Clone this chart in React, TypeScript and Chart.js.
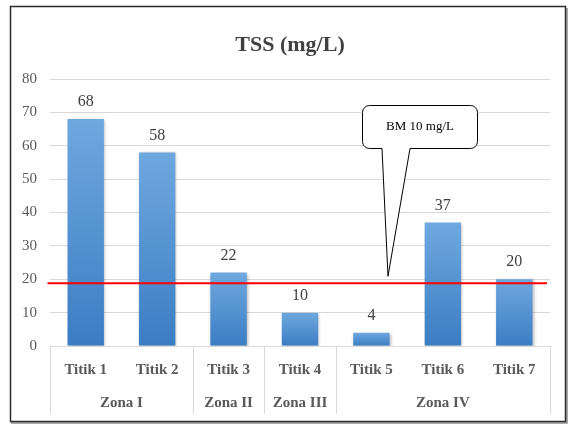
import { useEffect, useRef } from 'react';
import { Chart, registerables } from 'chart.js';

Chart.register(...registerables);

// Chart content
const titleText = 'TSS (mg/L)';
const pointLabels = ['Titik 1', 'Titik 2', 'Titik 3', 'Titik 4', 'Titik 5', 'Titik 6', 'Titik 7'];
const tssValues = [68, 58, 22, 10, 4, 37, 20];
const zoneLabels = ['Zona I', 'Zona II', 'Zona III', 'Zona IV'];
const zoneSizes = [2, 1, 1, 3];
const yMin = 0;
const yMax = 80;
const yStep = 10;
const bmLabel = 'BM 10 mg/L';
const bmLineValue = 18.8;

const SERIF = "'Liberation Serif', 'Times New Roman', serif";

const decorPlugin = {
  id: 'decor',
  beforeDatasetsDraw(chart: any) {
    const ctx = chart.ctx;
    ctx.save();
    ctx.shadowColor = 'rgba(0,0,0,0.28)';
    ctx.shadowBlur = 3;
    ctx.shadowOffsetX = 1;
    ctx.shadowOffsetY = 1;
  },
  afterDatasetsDraw(chart: any) {
    const ctx = chart.ctx;
    ctx.restore();
    const { chartArea, scales } = chart;
    const xs = scales.x;
    const ys = scales.y;

    // value labels above the bars
    const meta = chart.getDatasetMeta(0);
    ctx.save();
    ctx.font = `16px ${SERIF}`;
    ctx.fillStyle = '#404040';
    ctx.textAlign = 'center';
    ctx.textBaseline = 'middle';
    meta.data.forEach((bar: any, i: number) => {
      ctx.fillText(String(tssValues[i]), bar.x, bar.y - 17);
    });
    ctx.restore();

    // zone grouping row under the point labels
    const half = (xs.getPixelForValue(1) - xs.getPixelForValue(0)) / 2;
    ctx.save();
    ctx.strokeStyle = '#d9d9d9';
    ctx.lineWidth = 1;
    let start = 0;
    const bounds: number[] = [xs.getPixelForValue(0) - half];
    zoneSizes.forEach((n) => {
      start += n;
      bounds.push(xs.getPixelForValue(start - 1) + half);
    });
    bounds.forEach((bx) => {
      const px = Math.round(bx) + 0.5;
      ctx.beginPath();
      ctx.moveTo(px, chartArea.bottom);
      ctx.lineTo(px, chartArea.bottom + 68);
      ctx.stroke();
    });
    ctx.font = `bold 15px ${SERIF}`;
    ctx.fillStyle = '#595959';
    ctx.textAlign = 'center';
    ctx.textBaseline = 'middle';
    zoneLabels.forEach((z, i) => {
      ctx.fillText(z, (bounds[i] + bounds[i + 1]) / 2, chartArea.bottom + 57);
    });
    ctx.restore();

    // threshold line
    const ly = ys.getPixelForValue(bmLineValue);
    ctx.save();
    ctx.strokeStyle = '#ff0000';
    ctx.lineWidth = 2;
    ctx.beginPath();
    ctx.moveTo(chartArea.left - 2.5, ly);
    ctx.lineTo(chartArea.right - 3, ly);
    ctx.stroke();
    ctx.restore();

    // callout for the threshold
    const bx0 = 362.5, by0 = 105.5, bx1 = 477.5, by1 = 148.5, r = 7;
    const tailL = 382, tailR = 410, tipX = 388, tipY = ly - 7;
    ctx.save();
    ctx.beginPath();
    ctx.moveTo(bx0 + r, by0);
    ctx.lineTo(bx1 - r, by0);
    ctx.arcTo(bx1, by0, bx1, by0 + r, r);
    ctx.lineTo(bx1, by1 - r);
    ctx.arcTo(bx1, by1, bx1 - r, by1, r);
    ctx.lineTo(tailR, by1);
    ctx.lineTo(tipX, tipY);
    ctx.lineTo(tailL, by1);
    ctx.lineTo(bx0 + r, by1);
    ctx.arcTo(bx0, by1, bx0, by1 - r, r);
    ctx.lineTo(bx0, by0 + r);
    ctx.arcTo(bx0, by0, bx0 + r, by0, r);
    ctx.closePath();
    ctx.fillStyle = '#ffffff';
    ctx.fill();
    ctx.strokeStyle = '#000000';
    ctx.lineWidth = 1;
    ctx.stroke();
    ctx.font = `13px ${SERIF}`;
    ctx.fillStyle = '#000000';
    ctx.textAlign = 'center';
    ctx.textBaseline = 'middle';
    ctx.fillText(bmLabel, (bx0 + bx1) / 2, 127);
    ctx.restore();
  },
  afterDraw(chart: any) {
    const ctx = chart.ctx;
    ctx.save();
    // title
    ctx.font = `bold 22px ${SERIF}`;
    ctx.fillStyle = '#404040';
    ctx.textAlign = 'center';
    ctx.textBaseline = 'alphabetic';
    ctx.fillText(titleText, 290, 51);
    // outer frame
    ctx.strokeStyle = '#2a2a2a';
    ctx.lineWidth = 1.5;
    ctx.strokeRect(10.5, 6.5, 555, 415);
    ctx.strokeStyle = 'rgba(60,60,60,0.6)';
    ctx.lineWidth = 1.5;
    ctx.beginPath();
    ctx.moveTo(11, 423);
    ctx.lineTo(567, 423);
    ctx.lineTo(567, 8);
    ctx.stroke();
    ctx.restore();
  },
};

export default function App() {
  const canvasRef = useRef<HTMLCanvasElement | null>(null);

  useEffect(() => {
    document.body.style.margin = '0';
    const canvas = canvasRef.current;
    if (!canvas) return;
    const chart = new Chart(canvas, {
      type: 'bar',
      data: {
        labels: pointLabels,
        datasets: [
          {
            data: tssValues,
            backgroundColor: (c: any) => {
              const ch = c.chart;
              const area = ch.chartArea;
              if (!area || c.raw === undefined) return '#5b9bd5';
              const ys = ch.scales.y;
              const top = ys.getPixelForValue(c.raw);
              const bottom = ys.getPixelForValue(0);
              const g = ch.ctx.createLinearGradient(0, top, 0, bottom);
              g.addColorStop(0, '#6fa8df');
              g.addColorStop(1, '#3b7dc3');
              return g;
            },
            borderWidth: 0,
            barPercentage: 0.51,
            categoryPercentage: 1,
          },
        ],
      },
      options: {
        responsive: false,
        animation: false,
        layout: { padding: { top: 79, left: 10, right: 21, bottom: 4 } },
        plugins: {
          legend: { display: false },
          title: { display: false },
          tooltip: { enabled: false },
        },
        scales: {
          x: {
            grid: { display: false, drawTicks: false },
            border: { display: true, color: '#d9d9d9', width: 1 },
            ticks: {
              color: '#595959',
              font: { family: SERIF, size: 15, weight: 'bold' },
              padding: 15,
              maxRotation: 0,
            },
            afterFit: (s: any) => {
              s.height = 76;
            },
          },
          y: {
            min: yMin,
            max: yMax,
            grid: { color: '#d9d9d9', drawTicks: false },
            border: { display: false },
            ticks: {
              stepSize: yStep,
              color: '#595959',
              font: { family: SERIF, size: 15 },
              padding: 13,
            },
            afterFit: (s: any) => {
              s.width = 40;
            },
          },
        },
      },
      plugins: [decorPlugin],
    });
    return () => chart.destroy();
  }, []);

  return (
    <div style={{ position: 'absolute', left: 0, top: 0, width: 571, height: 426, background: '#ffffff' }}>
      <canvas ref={canvasRef} width={571} height={426} />
    </div>
  );
}
